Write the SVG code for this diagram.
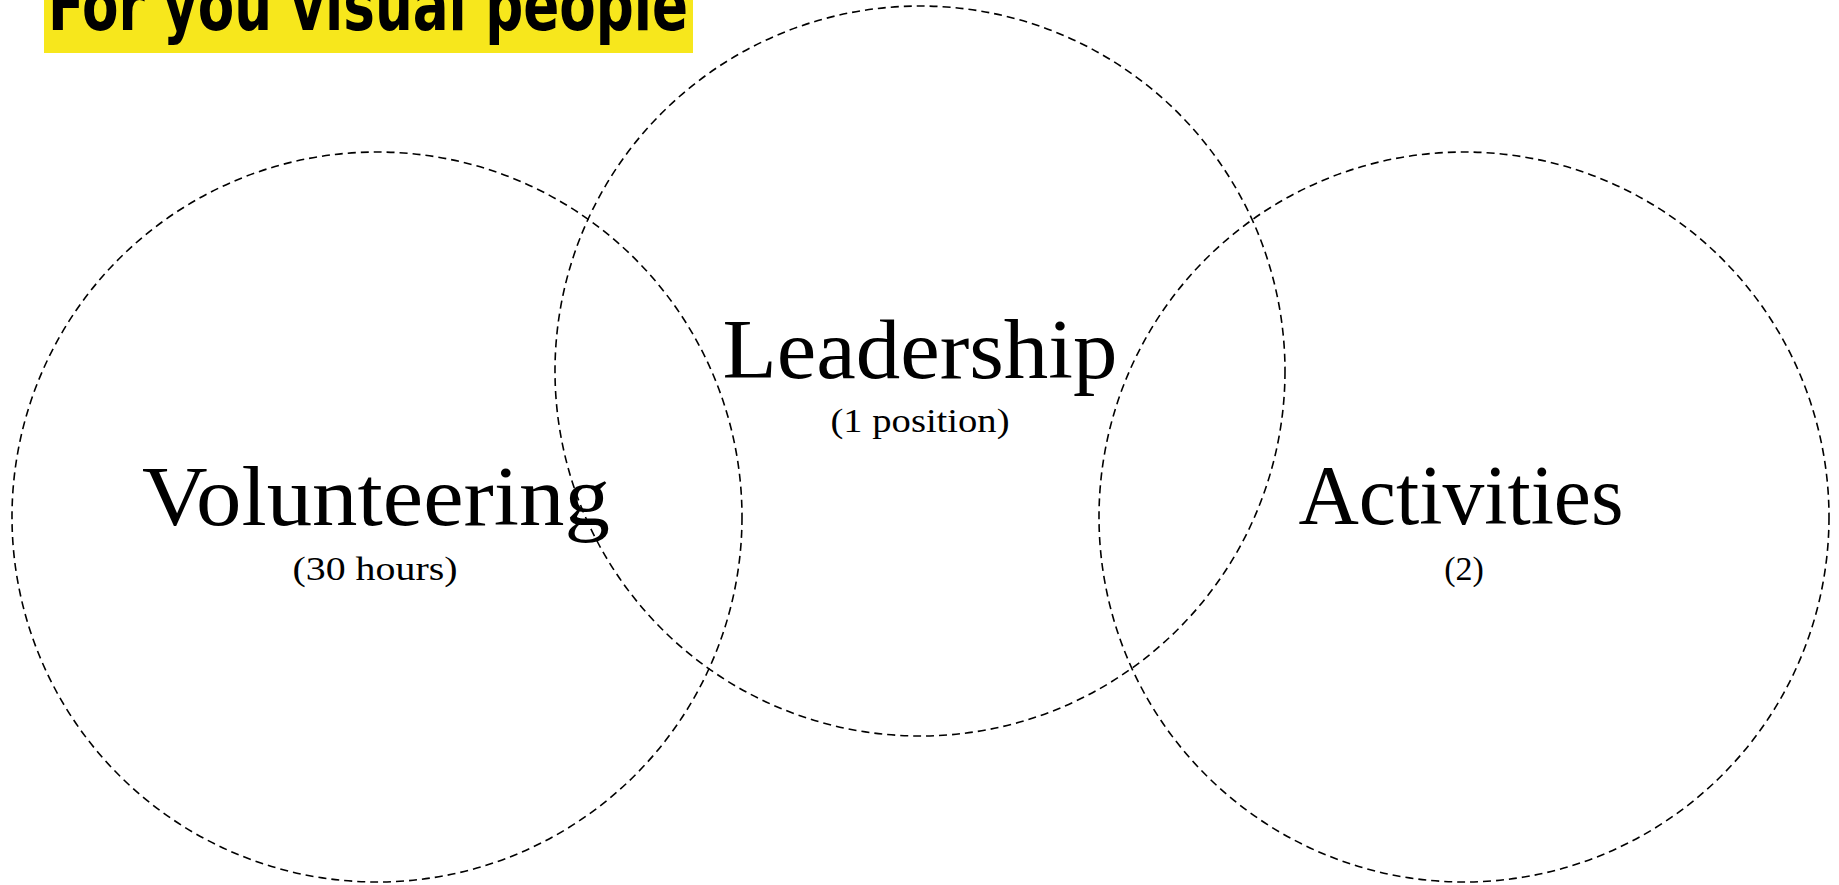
<svg xmlns="http://www.w3.org/2000/svg" width="1839" height="885" viewBox="0 0 1839 885">
<style>
.c{fill:none;stroke:#000;stroke-width:1.6;stroke-dasharray:8 5}
.h{font-family:"Liberation Serif","DejaVu Serif",serif;font-size:84px;fill:#000;text-anchor:middle}
.s{font-family:"Liberation Serif","DejaVu Serif",serif;font-size:34px;fill:#000;text-anchor:middle}
.t{font-family:"DejaVu Sans Condensed","DejaVu Sans",sans-serif;font-weight:bold;font-size:72px;fill:#000}
</style>
<rect width="1839" height="885" fill="#fff"/>
<g id="title">
<rect x="44" y="0" width="649" height="53" fill="#F7E71C"/>
<text class="t" x="48" y="30" textLength="640" lengthAdjust="spacingAndGlyphs">For you visual people</text>
</g>
<g id="volunteering">
<circle class="c" cx="377" cy="517" r="365"/>
<text class="h" x="376" y="525" textLength="468" lengthAdjust="spacingAndGlyphs">Volunteering</text>
<text class="s" x="375" y="580" textLength="165" lengthAdjust="spacingAndGlyphs">(30 hours)</text>
</g>
<g id="leadership">
<circle class="c" cx="920" cy="371" r="365"/>
<text class="h" x="920" y="378" textLength="395" lengthAdjust="spacingAndGlyphs">Leadership</text>
<text class="s" x="920" y="432" textLength="179" lengthAdjust="spacingAndGlyphs">(1 position)</text>
</g>
<g id="activities">
<circle class="c" cx="1464" cy="517" r="365"/>
<text class="h" x="1461" y="524" textLength="325" lengthAdjust="spacingAndGlyphs">Activities</text>
<text class="s" x="1464" y="580">(2)</text>
</g>
<g id="connectors"></g>
</svg>
